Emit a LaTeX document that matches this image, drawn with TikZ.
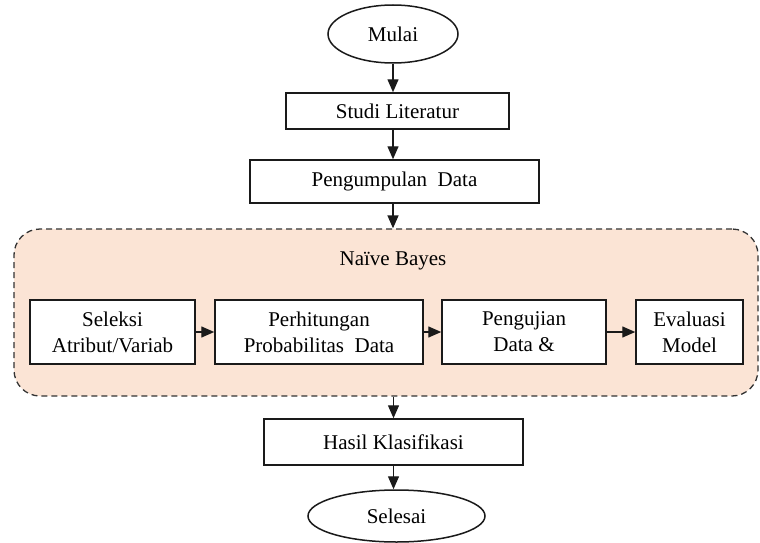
\documentclass[tikz,border=0pt]{standalone}
\usepackage{fontspec}
\setmainfont{Liberation Serif}
\usetikzlibrary{shapes.geometric,arrows.meta}
\definecolor{peach}{HTML}{FBE4D5}
\definecolor{linec}{HTML}{1A1A1A}
\definecolor{dashc}{HTML}{333333}
\tikzset{
  base/.style={draw=linec, line width=1.5pt, fill=white, inner sep=0pt, align=center,
    font=\fontsize{21}{26}\selectfont},
  procbox/.style={base, rectangle},
  termbox/.style={base, ellipse},
  arr/.style={draw=linec, line width=1.4pt, -{Triangle[length=13pt,width=11pt]}},
}
\begin{document}
\begin{tikzpicture}[x=1pt,y=-1pt]
\useasboundingbox (0,0) rectangle (760,543);
\node[termbox, minimum width=130pt, minimum height=58pt] (mulai) at (393,34) {Mulai};
\node[procbox, minimum width=223pt, minimum height=36pt] (studi) at (397.5,111) {Studi Literatur};
\node[procbox, minimum width=289pt, minimum height=43pt] (peng) at (394.5,181.5) {Pengumpulan\ \ Data};
\node[draw=dashc, dash pattern=on 6pt off 4pt, line width=1.3pt, fill=peach, rounded corners=26pt,
  minimum width=744pt, minimum height=167pt, inner sep=0pt] (nb) at (386,312.5) {};
\node[font=\fontsize{21}{26}\selectfont, inner sep=0pt] (nbt) at (393,261) {Naïve Bayes};
\node[procbox, minimum width=165pt, minimum height=64pt] (b1) at (112.5,332) {Seleksi\\Atribut/Variab};
\node[procbox, minimum width=208pt, minimum height=64pt] (b2) at (319,332) {Perhitungan\\Probabilitas\ \ Data};
\node[procbox, minimum width=164pt, minimum height=64pt] (b3) at (524,332) {Pengujian\\Data \&};
\node[procbox, minimum width=107pt, minimum height=64pt] (b4) at (689.5,332) {Evaluasi\\Model};
\node[procbox, minimum width=259pt, minimum height=46pt] (hasil) at (393.5,442) {Hasil Klasifikasi};
\node[termbox, minimum width=177pt, minimum height=52pt] (sel) at (396.5,516) {Selesai};
\draw[arr] (mulai.south) -- (mulai.south |- studi.north);
\draw[arr] (mulai.south |- studi.south) -- (mulai.south |- peng.north);
\draw[arr] (mulai.south |- peng.south) -- (mulai.south |- nb.north);
\draw[arr] (b1.east) -- (b2.west);
\draw[arr] (b2.east) -- (b3.west);
\draw[arr] (b3.east) -- (b4.west);
\draw[arr] (hasil.north |- nb.south) -- (hasil.north);
\draw[arr] (hasil.south) -- (hasil.south |- sel.north);
\end{tikzpicture}
\end{document}
